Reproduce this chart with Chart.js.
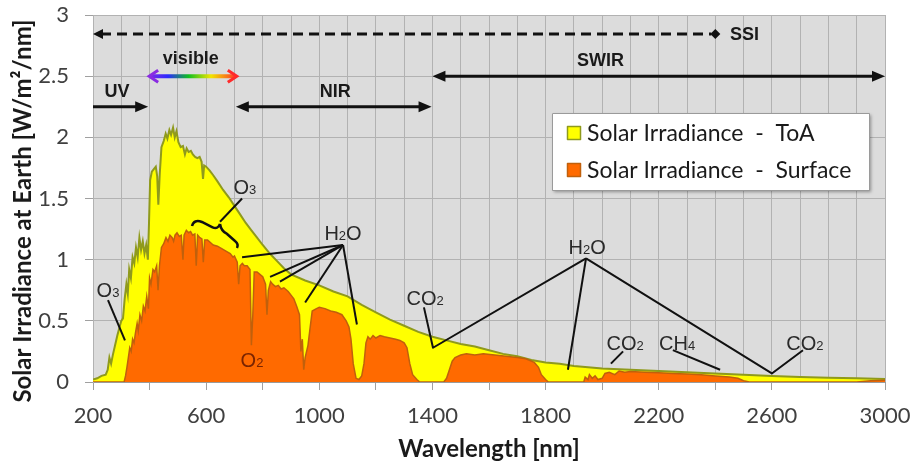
<!DOCTYPE html>
<html><head><meta charset="utf-8">
<script src="https://cdn.jsdelivr.net/npm/chart.js@4/dist/chart.umd.min.js"></script>
<style>html,body{margin:0;padding:0;background:#fff}#wrap{width:912px;height:461px;position:relative}</style>
</head><body><div id="wrap"><canvas id="c" width="912" height="461"></canvas></div>
<script>
// ---- Data ----
const toaWavelength = [200,215,230,245,252,258,264,270,278,286,294,300,306,312,318,323,328,334,340,346,352,358,364,370,376,382,388,394,398,402,408,415,422,427,431,436,442,450,457,463,470,476,483,489,495,502,510,518,525,531,538,546,553,561,569,577,584,589,593,600,612,625,640,660,680,700,720,740,760,780,800,825,850,875,900,950,1000,1050,1100,1150,1200,1250,1300,1350,1400,1450,1500,1550,1600,1650,1700,1750,1800,1850,1900,1950,2000,2100,2200,2300,2400,2500,2600,2700,2800,2900,3000];
const toaIrradiance = [0.02,0.03,0.05,0.06,0.10,0.20,0.15,0.22,0.30,0.38,0.45,0.50,0.52,0.68,0.80,0.72,0.92,0.85,1.02,0.97,1.10,1.02,1.18,1.08,1.15,1.05,1.12,1.00,1.30,1.65,1.72,1.74,1.76,1.68,1.45,1.70,1.92,1.97,2.03,1.99,2.06,2.02,2.08,2.00,2.05,1.96,1.92,1.93,1.86,1.91,1.88,1.89,1.86,1.84,1.83,1.84,1.80,1.66,1.77,1.76,1.73,1.69,1.64,1.57,1.51,1.44,1.37,1.30,1.24,1.18,1.12,1.05,0.99,0.93,0.88,0.83,0.79,0.74,0.70,0.63,0.57,0.51,0.46,0.41,0.37,0.34,0.31,0.29,0.26,0.23,0.21,0.18,0.16,0.15,0.13,0.12,0.11,0.10,0.09,0.08,0.07,0.06,0.05,0.04,0.035,0.03,0.025];

const surfaceWavelength = [200,310,315,320,325,330,335,340,345,350,356,360,366,372,378,384,390,396,400,405,412,418,425,430,435,442,450,458,465,472,480,485,490,497,505,512,518,522,530,538,545,552,560,565,570,578,585,590,595,605,615,625,640,655,670,685,695,700,710,715,720,728,735,745,755,760,765,770,780,790,800,810,815,820,828,835,845,855,865,875,890,900,910,920,930,935,940,945,950,960,968,975,990,1000,1020,1040,1060,1080,1095,1105,1112,1120,1130,1140,1150,1158,1165,1172,1180,1190,1200,1215,1230,1250,1270,1285,1300,1310,1320,1330,1345,1355,1440,1450,1460,1470,1480,1500,1520,1550,1580,1620,1660,1700,1730,1760,1775,1785,1800,1810,1935,1940,1950,1955,1965,1975,1985,2000,2010,2025,2045,2060,2080,2100,2150,2200,2250,2300,2350,2400,2450,2480,2500,2520,2900,2950,3000];
const surfaceIrradiance = [0,0,0.05,0.12,0.20,0.28,0.25,0.35,0.32,0.40,0.48,0.42,0.55,0.50,0.62,0.58,0.70,0.60,0.85,0.80,0.92,0.90,0.95,0.75,0.95,1.10,1.13,1.18,1.15,1.20,1.18,1.15,1.20,1.22,1.19,1.20,1.00,1.20,1.24,1.22,1.23,1.20,1.21,0.95,1.20,1.18,1.17,0.98,1.16,1.16,1.14,1.12,1.11,1.09,1.07,1.05,1.02,1.03,0.98,0.80,0.95,0.97,0.95,0.95,0.92,0.30,0.55,0.90,0.90,0.88,0.86,0.80,0.55,0.75,0.82,0.80,0.78,0.79,0.76,0.77,0.74,0.71,0.68,0.62,0.55,0.25,0.35,0.10,0.20,0.30,0.45,0.58,0.60,0.61,0.60,0.58,0.57,0.55,0.50,0.45,0.35,0.15,0.03,0.02,0.05,0.15,0.32,0.37,0.35,0.38,0.36,0.38,0.37,0.36,0.35,0.34,0.32,0.28,0.15,0.06,0.02,0,0,0.03,0.10,0.17,0.20,0.22,0.23,0.22,0.23,0.22,0.21,0.20,0.19,0.16,0.12,0.06,0.02,0,0,0.04,0.02,0.06,0.03,0.05,0.02,0.03,0.07,0.08,0.06,0.09,0.08,0.085,0.08,0.075,0.07,0.065,0.06,0.05,0.04,0.03,0.01,0,0,0.01,0.015];

const seriesNames = ['Solar Irradiance  -  ToA', 'Solar Irradiance  -  Surface'];
const xTickLabels = ['200','600','1000','1400','1800','2200','2600','3000'];
const yTickLabels = ['0','0.5','1','1.5','2','2.5','3'];
const xAxisTitle = 'Wavelength [nm]';
const yAxisTitle = 'Solar Irradiance at Earth [W/m²/nm]';

// ---- Annotations (in data units: nm, W/m²/nm) ----
const bandArrows = [
  {text:'UV',   from:200,  to:395,  y:2.25, heads:'end',  tx:285,  ty:2.37},
  {text:'NIR',  from:705,  to:1397, y:2.25, heads:'both', tx:1056, ty:2.37},
  {text:'SWIR', from:1400, to:3000, y:2.5,  heads:'both', tx:1994, ty:2.62}
];
const visibleArrow = {text:'visible', from:395, to:712, y:2.5, tx:546, ty:2.64};
const ssiArrow = {text:'SSI', from:200, to:2400, y:2.845, tx:2452};
const chemLabels = [
  {text:'O_3',  x:737,  y:1.59},
  {text:'O_3',  x:253,  y:0.75},
  {text:'H_2O', x:1084, y:1.22},
  {text:'O_2',  x:762,  y:0.18, color:'#7a2400'},
  {text:'CO_2', x:1374, y:0.69},
  {text:'H_2O', x:1947, y:1.10},
  {text:'CO_2', x:2081, y:0.32},
  {text:'CH_4', x:2265, y:0.32},
  {text:'CO_2', x:2717, y:0.32}
];
const leaderLines = [
  [[727,1.50],[649,1.31]],
  [[253,0.67],[313,0.34]],
  [[1084,1.12],[727,1.02]],
  [[1084,1.12],[826,0.86]],
  [[1084,1.12],[861,0.82]],
  [[1084,1.12],[950,0.65]],
  [[1084,1.12],[1133,0.47]],
  [[1370,0.61],[1402,0.28],[1943,1.01]],
  [[1943,1.01],[1879,0.10]],
  [[1943,1.01],[2600,0.07],[2710,0.26]],
  [[2074,0.25],[2031,0.15]],
  [[2250,0.26],[2417,0.10]]
];

const toaData = toaWavelength.map((w,i)=>({x:w, y:toaIrradiance[i]}));
const surfaceData = surfaceWavelength.map((w,i)=>({x:w, y:surfaceIrradiance[i]}));

const COL = {
  plotBg:'#dcdcdc', grid:'#b2b2b2', toaFill:'#ffff00', toaLine:'#8f9a1c',
  sfcFill:'#ff6a00', sfcLine:'#c0600c', ink:'#111111', tick:'#404040'
};

function drawChem(ctx, text, cx, cy, color){
  const parts = []; let i=0;
  while(i<text.length){
    if(text[i]==='_'){ parts.push({t:text[i+1], sub:true}); i+=2; }
    else { parts.push({t:text[i], sub:false}); i++; }
  }
  const big = '20px "Liberation Sans", Arial, sans-serif';
  const small = '13px "Liberation Sans", Arial, sans-serif';
  let w=0;
  parts.forEach(p=>{ ctx.font = p.sub?small:big; p.w = ctx.measureText(p.t).width; w+=p.w; });
  let x = cx - w/2;
  ctx.fillStyle = color || '#2a2a2a';
  ctx.textBaseline = 'alphabetic'; ctx.textAlign='left';
  const base = cy + 7;
  parts.forEach(p=>{ ctx.font = p.sub?small:big; ctx.fillText(p.t, x, base); x+=p.w; });
}

function tri(ctx, x, y, dir, len, half){
  ctx.beginPath(); ctx.moveTo(x,y); ctx.lineTo(x-dir*len, y-half); ctx.lineTo(x-dir*len, y+half); ctx.closePath(); ctx.fill();
}

const decorPlugin = {
  id:'decor',
  beforeDraw(chart){
    const {ctx, chartArea:a} = chart;
    ctx.save(); ctx.fillStyle = COL.plotBg; ctx.fillRect(a.left, a.top, a.right-a.left, a.bottom-a.top); ctx.restore();
  },
  afterDraw(chart){
    const {ctx} = chart;
    const X = v => chart.scales.x.getPixelForValue(v);
    const Y = v => chart.scales.y.getPixelForValue(v);
    ctx.save();
    // y axis title
    ctx.save(); ctx.translate(23, 211); ctx.rotate(-Math.PI/2);
    ctx.font = 'bold 24px Lato, sans-serif'; ctx.fillStyle='#1a1a1a'; ctx.textAlign='center'; ctx.textBaseline='middle';
    ctx.fillText(yAxisTitle, 0, 0); ctx.restore();

    // SSI dashed arrow
    ctx.strokeStyle = COL.ink; ctx.fillStyle = COL.ink; ctx.lineWidth = 3;
    const sy = Y(ssiArrow.y), sx1 = X(ssiArrow.from), sx2 = X(ssiArrow.to);
    ctx.setLineDash([10,6]); ctx.beginPath(); ctx.moveTo(sx1+8, sy); ctx.lineTo(sx2-4, sy); ctx.stroke(); ctx.setLineDash([]);
    tri(ctx, sx1, sy, -1, 10, 5);
    ctx.beginPath(); ctx.moveTo(sx2+5, sy); ctx.lineTo(sx2, sy-5); ctx.lineTo(sx2-5, sy); ctx.lineTo(sx2, sy+5); ctx.closePath(); ctx.fill();
    ctx.font = 'bold 18px "Liberation Sans", Arial, sans-serif'; ctx.textBaseline='middle'; ctx.textAlign='left';
    ctx.fillStyle = '#1a1a1a'; ctx.fillText(ssiArrow.text, X(ssiArrow.tx), sy+1);

    // band arrows
    bandArrows.forEach(b=>{
      const y = Y(b.y), x1 = X(b.from), x2 = X(b.to);
      ctx.strokeStyle = COL.ink; ctx.fillStyle = COL.ink; ctx.lineWidth = 3;
      ctx.beginPath(); ctx.moveTo(x1 + (b.heads==='both'?8:0), y); ctx.lineTo(x2-8, y); ctx.stroke();
      tri(ctx, x2, y, 1, 13, 5.5);
      if(b.heads==='both') tri(ctx, x1, y, -1, 13, 5.5);
      ctx.font = 'bold 18px "Liberation Sans", Arial, sans-serif'; ctx.textAlign='center'; ctx.textBaseline='middle';
      ctx.fillStyle='#1a1a1a'; ctx.fillText(b.text, X(b.tx), Y(b.ty));
    });

    // visible arrow
    {
      const v = visibleArrow, y = Y(v.y), x1 = X(v.from), x2 = X(v.to);
      const g = ctx.createLinearGradient(x1, 0, x2, 0);
      g.addColorStop(0,'#8a2be2'); g.addColorStop(0.22,'#2a2aff'); g.addColorStop(0.45,'#10c020');
      g.addColorStop(0.7,'#f2e600'); g.addColorStop(1,'#ff2a2a');
      ctx.strokeStyle = g; ctx.lineWidth = 4;
      ctx.beginPath(); ctx.moveTo(x1+2, y); ctx.lineTo(x2-2, y); ctx.stroke();
      ctx.lineWidth = 3;
      ctx.strokeStyle = '#8a2be2'; ctx.beginPath(); ctx.moveTo(x1+10, y-6); ctx.lineTo(x1+1, y); ctx.lineTo(x1+10, y+6); ctx.stroke();
      ctx.strokeStyle = '#ff2a2a'; ctx.beginPath(); ctx.moveTo(x2-10, y-6); ctx.lineTo(x2-1, y); ctx.lineTo(x2-10, y+6); ctx.stroke();
      ctx.font = 'bold 18px "Liberation Sans", Arial, sans-serif'; ctx.textAlign='center'; ctx.textBaseline='middle';
      ctx.fillStyle='#1a1a1a'; ctx.fillText(v.text, X(v.tx), Y(v.ty));
    }

    // leader lines
    ctx.strokeStyle = COL.ink; ctx.lineWidth = 2; ctx.lineJoin='round';
    leaderLines.forEach(l=>{
      ctx.beginPath(); l.forEach((p,i)=>{ const px=X(p[0]), py=Y(p[1]); if(i===0) ctx.moveTo(px,py); else ctx.lineTo(px,py); }); ctx.stroke();
    });
    // brace (O3 Chappuis band)
    ctx.lineWidth = 2.5; ctx.beginPath();
    ctx.moveTo(X(550),Y(1.275));
    ctx.quadraticCurveTo(X(557),Y(1.332), X(585),Y(1.308));
    ctx.lineTo(X(621),Y(1.267));
    ctx.quadraticCurveTo(X(642),Y(1.243), X(649),Y(1.292));
    ctx.moveTo(X(649),Y(1.292));
    ctx.quadraticCurveTo(X(653),Y(1.234), X(674),Y(1.210));
    ctx.lineTo(X(702),Y(1.153));
    ctx.quadraticCurveTo(X(716),Y(1.128), X(709),Y(1.095));
    ctx.stroke();

    // chem labels
    chemLabels.forEach(c=> drawChem(ctx, c.text, X(c.x), Y(c.y), c.color));

    // legend
    const lx=552, ly=113, lw=317, lh=77;
    ctx.save(); ctx.shadowColor='rgba(0,0,0,0.35)'; ctx.shadowOffsetX=2; ctx.shadowOffsetY=2; ctx.shadowBlur=3;
    ctx.fillStyle='#ffffff'; ctx.fillRect(lx,ly,lw,lh); ctx.restore();
    ctx.strokeStyle='#9a9a9a'; ctx.lineWidth=1; ctx.strokeRect(lx+0.5,ly+0.5,lw,lh);
    const ds = chart.data.datasets;
    [0,1].forEach((k,i)=>{
      const d = ds[k]; const cy = ly + 20 + i*37;
      ctx.fillStyle = d.backgroundColor; ctx.fillRect(567, cy-7, 14, 14);
      ctx.strokeStyle = d.borderColor; ctx.lineWidth=1.5; ctx.strokeRect(567.5, cy-6.5, 13, 13);
      ctx.fillStyle='#1a1a1a'; ctx.font='23px Lato, sans-serif'; ctx.textAlign='left'; ctx.textBaseline='middle';
      ctx.fillText(d.label, 587, cy+1);
    });
    ctx.restore();
  }
};

new Chart(document.getElementById('c'), {
  type:'line',
  data:{ datasets:[
    {label:seriesNames[0], data:toaData, backgroundColor:COL.toaFill, borderColor:COL.toaLine, borderWidth:2, fill:'origin', pointRadius:0, tension:0, order:2},
    {label:seriesNames[1], data:surfaceData, backgroundColor:COL.sfcFill, borderColor:COL.sfcLine, borderWidth:1.5, fill:'origin', pointRadius:0, tension:0, order:1}
  ]},
  options:{
    responsive:false, animation:false, devicePixelRatio:1,
    layout:{padding:{left:0, top:15, right:27, bottom:0}},
    plugins:{legend:{display:false}, tooltip:{enabled:false}},
    scales:{
      x:{type:'linear', min:200, max:3000,
        afterFit(s){ s.height = 79; s.paddingLeft = 0; s.paddingRight = 0; },
        ticks:{stepSize:100, autoSkip:false, maxRotation:0, padding:13, color:COL.tick,
          font:{family:'Lato', size:22},
          callback:(v)=> xTickLabels.includes(String(v)) ? String(v) : ''},
        grid:{color:COL.grid, lineWidth:1, tickLength:8,
          tickColor:(c)=> (c.tick && c.tick.value % 200 === 0) ? '#a0a0a0' : 'rgba(0,0,0,0)'},
        border:{color:'#9a9a9a'},
        title:{display:true, text:xAxisTitle, color:'#1a1a1a', font:{family:'Lato', size:24, weight:'bold', lineHeight:1}, padding:{top:0,bottom:0}}
      },
      y:{min:0, max:3,
        afterFit(s){ s.width = 93; s.paddingTop = 0; s.paddingBottom = 0; },
        ticks:{stepSize:0.5, padding:16, color:COL.tick, font:{family:'Lato', size:22},
          callback:(v)=> yTickLabels[Math.round(v/0.5)]},
        grid:{color:COL.grid, lineWidth:1, tickLength:8, tickColor:'#a0a0a0'},
        border:{color:'#b2b2b2'}
      }
    }
  },
  plugins:[decorPlugin]
});
</script></body></html>
